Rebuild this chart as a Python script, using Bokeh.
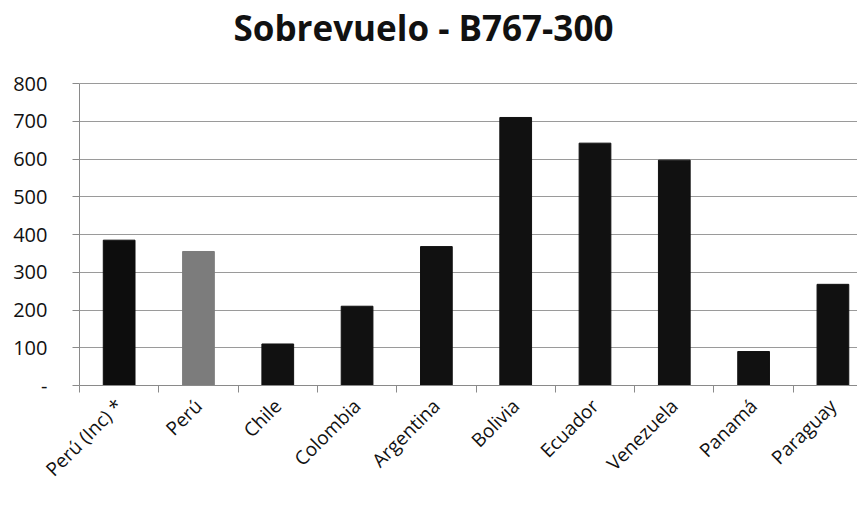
from bokeh.plotting import figure
from bokeh.models import Range1d, FixedTicker, ColumnDataSource, Label
from bokeh.embed import file_html
from bokeh.resources import INLINE
import math

title_text = "Sobrevuelo - B767-300"
categories = ["Perú (Inc) *", "Perú", "Chile", "Colombia", "Argentina",
              "Bolivia", "Ecuador", "Venezuela", "Panamá", "Paraguay"]
values = [385, 355, 110, 210, 368, 710, 642, 597, 90, 268]
bar_colors = ["#0d0d0d", "#7c7c7c", "#111111", "#111111", "#111111",
              "#111111", "#111111", "#111111", "#111111", "#111111"]
y_ticks = [0, 100, 200, 300, 400, 500, 600, 700, 800]
y_tick_labels = ["-", "100", "200", "300", "400", "500", "600", "700", "800"]

# layout (pixels)
W, H = 857, 493
LEFT, BOTTOM = 79, 108
AXIS_TOP_PX = 83                      # where the 800 line sits
FRAME_H = H - BOTTOM                  # frame spans from canvas top to bottom border
y_max = y_ticks[-1]
y_end = y_max * FRAME_H / (FRAME_H - AXIS_TOP_PX)

xs = [i + 0.5 for i in range(len(categories))]
src = ColumnDataSource(dict(x=xs, top=values, color=bar_colors, name=categories))

p = figure(width=W, height=H, output_backend="svg", toolbar_location=None,
           x_range=Range1d(0, 9.81), y_range=Range1d(0, y_end),
           min_border_left=LEFT, min_border_right=0, min_border_top=0,
           min_border_bottom=BOTTOM)
p.outline_line_color = None
p.background_fill_color = "white"

title = Label(x=233 - LEFT, y=FRAME_H - 27, x_units="screen", y_units="screen",
              text=title_text, text_align="left", text_baseline="alphabetic",
              text_font="Open Sans", text_font_style="bold",
              text_font_size="35px", text_color="#111111")
p.add_layout(title)

p.vbar(x="x", top="top", width=0.4, bottom=0, color="color", source=src)

# Y axis
p.yaxis.ticker = FixedTicker(ticks=y_ticks)
p.yaxis.bounds = (0, y_max)
p.yaxis.major_label_overrides = {t: l for t, l in zip(y_ticks, y_tick_labels)}
p.yaxis.major_label_text_font = "Open Sans"
p.yaxis.major_label_text_font_size = "20px"
p.yaxis.major_label_text_color = "#111111"
p.yaxis.major_label_standoff = 25
p.yaxis.major_tick_out = 7
p.yaxis.major_tick_in = 0
p.yaxis.minor_tick_line_color = None
p.yaxis.axis_line_color = "#8a8a8a"
p.yaxis.major_tick_line_color = "#8a8a8a"

# X axis
p.xaxis.ticker = FixedTicker(ticks=xs, minor_ticks=list(range(len(categories) + 1)))
p.xaxis.major_label_overrides = {x: c for x, c in zip(xs, categories)}
p.xaxis.major_label_orientation = math.pi / 4
p.xaxis.major_label_text_font = "Open Sans"
p.xaxis.major_label_text_font_size = "19px"
p.xaxis.major_label_text_color = "#111111"
p.xaxis.major_label_standoff = 10
p.xaxis.major_tick_line_color = None
p.xaxis.major_tick_out = 0
p.xaxis.major_tick_in = 0
p.xaxis.minor_tick_out = 7
p.xaxis.minor_tick_in = 0
p.xaxis.minor_tick_line_color = "#8a8a8a"
p.xaxis.axis_line_color = "#8a8a8a"

p.xgrid.grid_line_color = None
p.ygrid.grid_line_color = "#9a9a9a"
p.ygrid.grid_line_width = 1

open("out.html", "w").write(file_html(p, INLINE))
